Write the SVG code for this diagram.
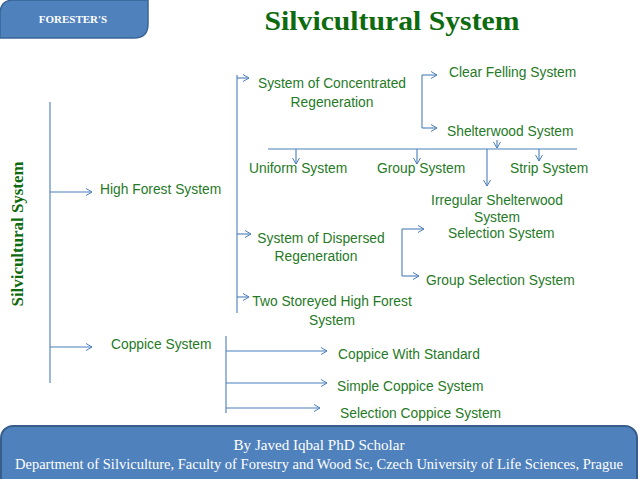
<svg xmlns="http://www.w3.org/2000/svg" width="638" height="479" viewBox="0 0 638 479">
<defs>
<marker id="a" markerWidth="9" markerHeight="9" refX="7" refY="4" orient="auto" markerUnits="userSpaceOnUse"><path d="M1,0.5 L7,4 L1,7.5" fill="none" stroke="#4a7ebb" stroke-width="1"/></marker>
<style>
.t{font-family:"Liberation Sans",Arial,sans-serif;font-size:13.8px;fill:#267a26}
.m{text-anchor:middle}
.c line,.c path{stroke:#4a7ebb;stroke-width:1.1;fill:none}
.ar{marker-end:url(#a)}
.w{font-family:"Liberation Serif","Times New Roman",serif;fill:#ffffff;text-anchor:middle}
</style>
</defs>
<rect width="638" height="479" fill="#ffffff"/>
<g id="tab">
<path d="M0,38 V14 Q0,0 14,0 H148 V24 Q148,38 134,38 Z" fill="#4f81bd" stroke="#3a6496" stroke-width="1.5"/>
<text x="73" y="23" class="w" font-size="11" font-weight="bold">FORESTER'S</text>
</g>
<g id="title">
<text x="392" y="30" font-family="'Liberation Serif','Times New Roman',serif" font-weight="bold" font-size="28" fill="#0e6a0e" text-anchor="middle" textLength="255" lengthAdjust="spacingAndGlyphs">Silvicultural System</text>
</g>
<g id="root">
<text transform="translate(23,234) rotate(-90)" font-family="'Liberation Serif','Times New Roman',serif" font-weight="bold" font-size="16" fill="#0e6a0e" text-anchor="middle" textLength="145" lengthAdjust="spacingAndGlyphs">Silvicultural System</text>
</g>
<g class="c" id="connectors">
<path d="M50,102 V383"/>
<path class="ar" d="M50,192 H92"/>
<path class="ar" d="M50,347 H92"/>
<path d="M237,75 V313"/>
<path class="ar" d="M237,78 H249"/>
<path class="ar" d="M237,234 H251"/>
<path class="ar" d="M237,297 H249"/>
<path d="M422,75 V128"/>
<path class="ar" d="M422,75 H437"/>
<path class="ar" d="M422,128 H437"/>
<path d="M268,149 H577"/>
<path class="ar" d="M497,140 V148"/>
<path class="ar" d="M296,149 V164"/>
<path class="ar" d="M417,149 V164"/>
<path class="ar" d="M539,149 V161"/>
<path class="ar" d="M487,149 V186"/>
<path d="M402,229 V276"/>
<path class="ar" d="M402,229 H424"/>
<path class="ar" d="M402,276 H419"/>
<path d="M226,336 V413"/>
<path class="ar" d="M226,351 H327"/>
<path class="ar" d="M226,383 H327"/>
<path class="ar" d="M226,408 H320"/>
</g>
<g id="high-forest"><text class="t" x="100" y="194">High Forest System</text></g>
<g id="coppice"><text class="t" x="111" y="349">Coppice System</text></g>
<g id="concentrated"><text class="t m" x="332" y="88">System of Concentrated</text><text class="t m" x="332" y="107">Regeneration</text></g>
<g id="clear-felling"><text class="t" x="449" y="77">Clear Felling System</text></g>
<g id="shelterwood"><text class="t" x="447" y="136">Shelterwood System</text></g>
<g id="uniform"><text class="t" x="249" y="173">Uniform System</text></g>
<g id="group"><text class="t" x="377" y="173">Group System</text></g>
<g id="strip"><text class="t" x="510" y="173">Strip System</text></g>
<g id="irregular"><text class="t m" x="497" y="205">Irregular Shelterwood</text><text class="t m" x="497" y="222">System</text></g>
<g id="selection"><text class="t" x="448" y="238">Selection System</text></g>
<g id="dispersed"><text class="t m" x="321" y="243">System of Dispersed</text><text class="t m" x="316" y="261">Regeneration</text></g>
<g id="group-selection"><text class="t" x="426" y="285">Group Selection System</text></g>
<g id="two-storeyed"><text class="t m" x="332" y="306">Two Storeyed High Forest</text><text class="t m" x="332" y="325">System</text></g>
<g id="coppice-standard"><text class="t" x="338" y="359">Coppice With Standard</text></g>
<g id="simple-coppice"><text class="t" x="337" y="391">Simple Coppice System</text></g>
<g id="selection-coppice"><text class="t" x="340" y="418">Selection Coppice System</text></g>
<g id="footer">
<rect x="1" y="426" width="636" height="70" rx="12" fill="#4f81bd" stroke="#385d8a" stroke-width="2"/>
<text class="w" x="319" y="450" font-size="14" textLength="171" lengthAdjust="spacingAndGlyphs">By Javed Iqbal PhD Scholar</text>
<text class="w" x="319" y="469" font-size="14" textLength="608" lengthAdjust="spacingAndGlyphs">Department of Silviculture, Faculty of Forestry and Wood Sc, Czech University of Life Sciences, Prague</text>
</g>
</svg>
